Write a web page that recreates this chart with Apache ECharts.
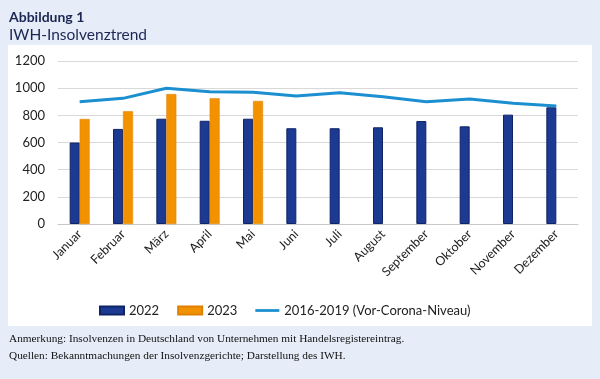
<!DOCTYPE html>
<html><head><meta charset="utf-8">
<script src="https://cdn.jsdelivr.net/npm/echarts@6/dist/echarts.min.js"></script>
<style>html,body{margin:0;padding:0;background:#e6edf8}#c{width:600px;height:379px}</style>
</head><body><div id="c"></div>
<script>
const months = ['Januar','Februar','März','April','Mai','Juni','Juli','August','September','Oktober','November','Dezember'];
const y2022 = [600,700,775,760,775,705,705,712,758,719,805,859];
const y2023 = [773,830,957,925,906,null,null,null,null,null,null,null];
const preCorona = [900,925,999,974,970,943,967,937,900,920,889,869];
const yTicks = [0,200,400,600,800,1000,1200];

const chart = echarts.init(document.getElementById('c'));
chart.setOption({
  backgroundColor:'#e6edf8',
  animation:false,
  graphic:[
    {type:'rect',shape:{x:8,y:45,width:584,height:281},style:{fill:'#ffffff'},z:-10},
    {type:'text',left:9,top:334,style:{text:'Anmerkung: Insolvenzen in Deutschland von Unternehmen mit Handelsregistereintrag.',font:'11.3px "Liberation Serif"',fill:'#111111'}},
    {type:'text',left:9,top:351,style:{text:'Quellen: Bekanntmachungen der Insolvenzgerichte; Darstellung des IWH.',font:'11.3px "Liberation Serif"',fill:'#111111'}}
  ],
  title:[
    {text:'Abbildung 1',left:4,top:5,textStyle:{fontFamily:'Lato',fontWeight:'bold',fontSize:14,color:'#1b2653'}},
    {text:'IWH-Insolvenztrend',left:4,top:22,textStyle:{fontFamily:'Lato',fontWeight:'normal',fontSize:15.5,color:'#1b2653'}}
  ],
  grid:{left:58,right:22,top:61,bottom:155},
  legend:{
    top:299,left:94,itemGap:18,itemWidth:24,itemHeight:8,
    textStyle:{fontFamily:'Lato',fontSize:13,color:'#222'},
    data:[{name:'2022',icon:'rect'},{name:'2023',icon:'rect'},
      {name:'2016-2019 (Vor-Corona-Niveau)',icon:'path://M0,0 H26 V3 H0 Z',itemStyle:{color:'#1b8fd0'}}]
  },
  xAxis:{type:'category',data:months,
    axisLine:{lineStyle:{color:'#c8c8c8'}},axisTick:{show:false},
    axisLabel:{rotate:45,fontFamily:'Lato',fontSize:12.5,color:'#222',interval:0,margin:8}},
  yAxis:{type:'value',min:0,max:1200,interval:200,
    axisLine:{show:false},axisTick:{show:false},
    axisLabel:{fontFamily:'Lato',fontSize:13,color:'#222',margin:13,
      formatter:v=>yTicks.includes(v)?String(v):''},
    splitLine:{lineStyle:{color:'#d9d9d9'}}},
  series:[
    {name:'2022',type:'bar',data:y2022,barWidth:10,barGap:'0%',
      itemStyle:{color:'#1c3a92',borderColor:'#0f2466',borderWidth:1}},
    {name:'2023',type:'bar',data:y2023,barWidth:10,
      itemStyle:{color:'#f39200',borderColor:'#e08000',borderWidth:0.5}},
    {name:'2016-2019 (Vor-Corona-Niveau)',type:'line',data:preCorona,symbol:'none',
      lineStyle:{color:'#1b8fd0',width:3},itemStyle:{color:'#1b8fd0'}}
  ]
});
</script></body></html>
